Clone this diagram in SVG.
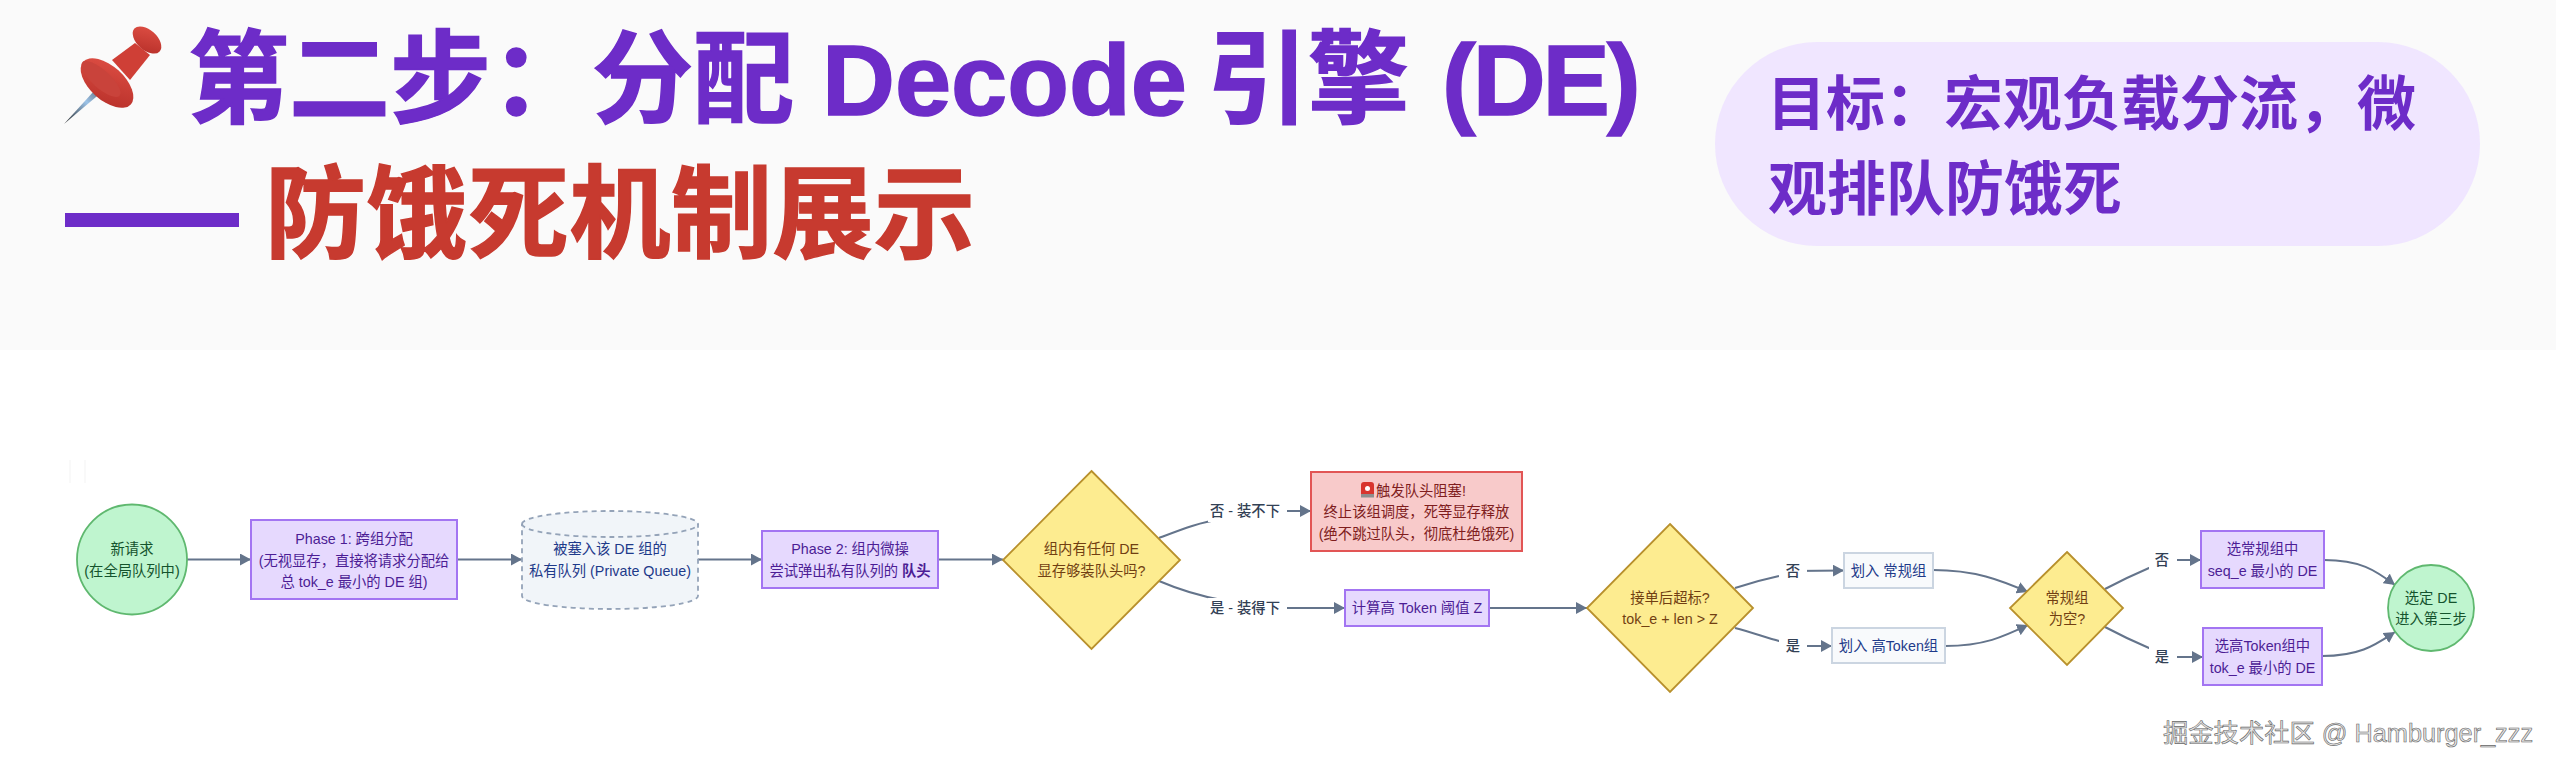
<svg xmlns="http://www.w3.org/2000/svg" width="2556" height="770" viewBox="0 0 2556 770">
<style>
text{font-family:"Liberation Sans","Noto Sans CJK SC",sans-serif}
.t{font-size:14.3px;text-anchor:middle}
.title{font-size:101px;font-weight:700;stroke-width:1.5px}
.goal{font-size:59px;font-weight:700;fill:#6d2cc8}
.edge{fill:none;stroke:#64748b;stroke-width:2;marker-end:url(#arrow)}
.bg{fill:#fff}
.lab{fill:#334155;font-weight:500}
.g{fill:#bff5cf;stroke:#5fb86f;stroke-width:1.8}
.gt{fill:#14532d}
.p{fill:#e6d9fe;stroke:#a375f2;stroke-width:2}
.pt{fill:#4c1d95}
.y{fill:#fdec90;stroke:#b8902c;stroke-width:1.8}
.yt{fill:#713f12}
.l{fill:#f8fafc;stroke:#cbd5e1;stroke-width:2}
.lt{fill:#1e3a8a}
</style>
<defs>
<marker id="arrow" markerUnits="userSpaceOnUse" markerWidth="12" markerHeight="12" refX="11" refY="6" orient="auto"><path d="M0 0L11 6L0 12Z" fill="#64748b"/></marker>
<linearGradient id="needle" x1="0" y1="1" x2="1" y2="0"><stop offset="0" stop-color="#222"/><stop offset=".5" stop-color="#9cc3e8"/><stop offset="1" stop-color="#333"/></linearGradient>
<linearGradient id="pinred" x1="0" y1="0" x2="1" y2="1"><stop offset="0" stop-color="#e05045"/><stop offset="1" stop-color="#b52e28"/></linearGradient>
</defs>
<rect width="2556" height="770" fill="#fff"/>
<rect width="2556" height="350" fill="#fafafa"/>
<g id="pin">
<path d="M64 124L104 80L109 86Z" fill="url(#needle)"/>
<path d="M112 60L135 43L150 55L130 80Z" fill="#cf3f36"/>
<ellipse cx="147" cy="40" rx="17" ry="10" transform="rotate(42 147 40)" fill="url(#pinred)"/>
<ellipse cx="107" cy="83" rx="32" ry="17" transform="rotate(42 107 83)" fill="url(#pinred)"/>
<ellipse cx="101" cy="79" rx="25" ry="9" transform="rotate(42 101 79)" fill="#c9433b"/>
</g>
<g id="title">
<text class="title" y="115" fill="#6d2cc8" stroke="#6d2cc8"><tspan x="188">第二步&#xFF1A;分配 </tspan><tspan x="822">Decode </tspan><tspan x="1207">引擎 </tspan><tspan x="1442" letter-spacing="-3">(DE)</tspan></text>
<rect x="65" y="213" width="174" height="14" fill="#6d2cc8"/>
<text class="title" x="265" y="250" letter-spacing=".5" fill="#c73a2f" stroke="#c73a2f">防饿死机制展示</text>
</g>
<g id="goal">
<rect x="1715" y="42" width="765" height="204" rx="102" fill="#f0e6ff"/>
<text class="goal" x="1767" y="125">目标&#xFF1A;宏观负载分流&#xFF0C;微</text>
<text class="goal" x="1768" y="210">观排队防饿死</text>
</g>
<path d="M70 460V483M85 460V483" stroke="#f3f3f3" stroke-width="1" fill="none"/>
<g id="connectors">
<path class="edge" d="M187 559.500H251"/>
<path class="edge" d="M457 559.500H522"/>
<path class="edge" d="M698 559.500H762"/>
<path class="edge" d="M938 559.500H1003"/>
<path class="edge" d="M1159 538C1180 530 1200 522 1222 519L1245 511L1311 511"/>
<path class="edge" d="M1159 581C1180 590 1200 596 1222 600L1245 608L1345 608"/>
<path class="edge" d="M1489 608H1587"/>
<path class="edge" d="M1735 588C1750 583 1765 579 1779 576L1793 571L1844 570.500"/>
<path class="edge" d="M1735 628C1750 632 1765 637 1779 641L1793 646L1832 646"/>
<path class="edge" d="M1933 570C1975 570 2000 580 2028 592"/>
<path class="edge" d="M1945 646C1985 646 2005 636 2028 625"/>
<path class="edge" d="M2105 589C2120 581 2135 574 2149 568L2162 560L2201 560"/>
<path class="edge" d="M2105 627C2120 635 2135 642 2149 648L2162 657L2203 657"/>
<path class="edge" d="M2324 560C2360 560 2375 570 2395 585"/>
<path class="edge" d="M2322 656C2360 656 2375 645 2395 632"/>
<rect class="bg" x="1208" y="499" width="79" height="23"/>
<text class="t lab" x="1245" y="516">否 - 装不下</text>
<rect class="bg" x="1208" y="598" width="79" height="23"/>
<text class="t lab" x="1245" y="613">是 - 装得下</text>
<rect class="bg" x="1779" y="559" width="28" height="25"/>
<text class="t lab" x="1793" y="576">否</text>
<rect class="bg" x="1779" y="634" width="28" height="25"/>
<text class="t lab" x="1793" y="651">是</text>
<rect class="bg" x="2149" y="548" width="28" height="25"/>
<text class="t lab" x="2162" y="565">否</text>
<rect class="bg" x="2149" y="645" width="28" height="25"/>
<text class="t lab" x="2162" y="662">是</text>
</g>
<g id="n-start">
<ellipse class="g" cx="132" cy="559.500" rx="55" ry="55"/>
<text class="t gt" x="132" y="554">新请求</text>
<text class="t gt" x="132" y="576">(在全局队列中)</text>
</g>
<g id="n-phase1">
<rect class="p" x="251" y="520" width="206" height="79"/>
<text class="t pt" x="354" y="544">Phase 1: 跨组分配</text>
<text class="t pt" x="354" y="565.500">(无视显存&#xFF0C;直接将请求分配给</text>
<text class="t pt" x="354" y="587">总 tok_e 最小的 DE 组)</text>
</g>
<g id="n-queue">
<path d="M522 524A88 13 0 0 1 698 524V596A88 13 0 0 1 522 596Z" fill="#f1f5f9" stroke="#94a3b8" stroke-width="1.800" stroke-dasharray="5 4"/>
<path d="M522 524A88 13 0 0 0 698 524" fill="none" stroke="#94a3b8" stroke-width="1.800" stroke-dasharray="5 4"/>
<text class="t lt" x="610" y="554">被塞入该 DE 组的</text>
<text class="t lt" x="610" y="576">私有队列 (Private Queue)</text>
</g>
<g id="n-phase2">
<rect class="p" x="762" y="531" width="176" height="57"/>
<text class="t pt" x="850" y="554">Phase 2: 组内微操</text>
<text class="t pt" x="850" y="576">尝试弹出私有队列的 <tspan font-weight="700">队头</tspan></text>
</g>
<g id="n-check">
<path class="y" d="M1091.500 471L1180 560L1091.500 649L1003 560Z"/>
<text class="t yt" x="1091.500" y="554">组内有任何 DE</text>
<text class="t yt" x="1091.500" y="576">显存够装队头吗?</text>
</g>
<g id="n-block">
<rect x="1311" y="472" width="211" height="79" fill="#f8caca" stroke="#e25555" stroke-width="2"/>
<g id="siren"><rect x="1361" y="482" width="13" height="15" rx="3" fill="#d8352e"/><rect x="1361" y="494" width="13" height="3.500" fill="#8e8e8e"/><circle cx="1367.500" cy="488.500" r="2.500" fill="#fff"/></g>
<text class="t" fill="#7f1d1d" x="1421" y="495.500">触发队头阻塞!</text>
<text class="t" fill="#7f1d1d" x="1416.500" y="517">终止该组调度&#xFF0C;死等显存释放</text>
<text class="t" fill="#7f1d1d" x="1416.500" y="539">(绝不跳过队头&#xFF0C;彻底杜绝饿死)</text>
</g>
<g id="n-calc">
<rect class="p" x="1345" y="590" width="144" height="36"/>
<text class="t pt" x="1417" y="613">计算高 Token 阈值 Z</text>
</g>
<g id="n-over">
<path class="y" d="M1670 524L1753 608L1670 692L1587 608Z"/>
<text class="t yt" x="1670" y="603">接单后超标?</text>
<text class="t yt" x="1670" y="624">tok_e + len &gt; Z</text>
</g>
<g id="n-normal">
<rect class="l" x="1844" y="553" width="89" height="35"/>
<text class="t lt" x="1888.500" y="576">划入 常规组</text>
</g>
<g id="n-high">
<rect class="l" x="1832" y="628" width="113" height="35"/>
<text class="t lt" x="1888.500" y="651">划入 高Token组</text>
</g>
<g id="n-empty">
<path class="y" d="M2067 552L2123 608L2067 665L2010 608Z"/>
<text class="t yt" x="2067" y="603">常规组</text>
<text class="t yt" x="2067" y="624">为空?</text>
</g>
<g id="n-seq">
<rect class="p" x="2201" y="531" width="123" height="57"/>
<text class="t pt" x="2262.500" y="554">选常规组中</text>
<text class="t pt" x="2262.500" y="576">seq_e 最小的 DE</text>
</g>
<g id="n-tok">
<rect class="p" x="2203" y="628" width="119" height="57"/>
<text class="t pt" x="2262.500" y="651">选高Token组中</text>
<text class="t pt" x="2262.500" y="673">tok_e 最小的 DE</text>
</g>
<g id="n-end">
<circle class="g" cx="2431" cy="608" r="43"/>
<text class="t gt" x="2431" y="603">选定 DE</text>
<text class="t gt" x="2431" y="624">进入第三步</text>
</g>
<text id="watermark" x="2163" y="742" font-size="25.300" fill="#e4e4e4" stroke="#666" stroke-width=".6">掘金技术社区 @ Hamburger_zzz</text>
</svg>
